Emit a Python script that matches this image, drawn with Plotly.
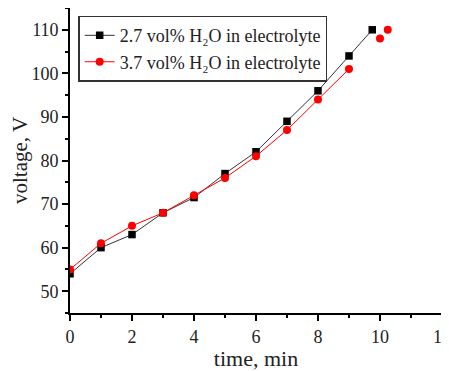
import plotly.graph_objects as go

time_a = [0, 1, 2, 3, 4, 5, 6, 7, 8, 9, 9.75]
volt_a = [54, 60, 63, 68, 71.5, 77, 82, 89, 96, 104, 110]
time_b = [0, 1, 2, 3, 4, 5, 6, 7, 8, 9, None, 10, None, 10.25]
volt_b = [55, 61, 65, 68, 72, 76, 81, 87, 94, 101, None, 108, None, 110]
name_a = "2.7 vol% H₂O in electrolyte"
name_b = "3.7 vol% H₂O in electrolyte"

fig = go.Figure()
fig.add_trace(go.Scatter(x=time_a, y=volt_a, mode="lines+markers", name=name_a,
                         line=dict(color="#333333", width=1),
                         marker=dict(symbol="square", size=7.5, color="black")))
fig.add_trace(go.Scatter(x=time_b, y=volt_b, mode="lines+markers", name=name_b,
                         line=dict(color="red", width=1),
                         marker=dict(symbol="circle", size=8, color="red")))

font = "Liberation Serif, Times New Roman, serif"
axis_common = dict(showline=True, linecolor="black", linewidth=1.8, ticks="outside",
                   ticklen=6, tickwidth=1.5, tickcolor="black", showgrid=False,
                   zeroline=False, tickfont=dict(family=font, size=18, color="#222"),
                   mirror=False, automargin=False, ticklabeloverflow="allow")
fig.update_xaxes(range=[0, 12], dtick=2, title=dict(text="time, min", font=dict(family=font, size=22, color="#222"), standoff=0),
                 minor=dict(ticks="outside", ticklen=3, tickwidth=1.5, tickcolor="black", dtick=1),
                 **axis_common)
fig.update_yaxes(range=[45, 115], tickvals=[50, 60, 70, 80, 90, 100, 110], title=dict(text="voltage, V", font=dict(family=font, size=21, color="#222"), standoff=0),
                 minor=dict(ticks="outside", ticklen=3, tickwidth=1.5, tickcolor="black", tickvals=[45, 55, 65, 75, 85, 95, 105, 115]),
                 **axis_common)
fig.update_layout(width=446, height=363, margin=dict(l=62, r=12, t=0, b=58),
                  plot_bgcolor="white", paper_bgcolor="white",
                  legend=dict(x=0.022, y=0.975, xanchor="left", yanchor="top",
                              bordercolor="#333", borderwidth=1.5, bgcolor="white",
                              font=dict(family=font, size=18, color="#222"),
                              itemwidth=30, tracegroupgap=0),
                  showlegend=True)
fig.write_html("out.html")
